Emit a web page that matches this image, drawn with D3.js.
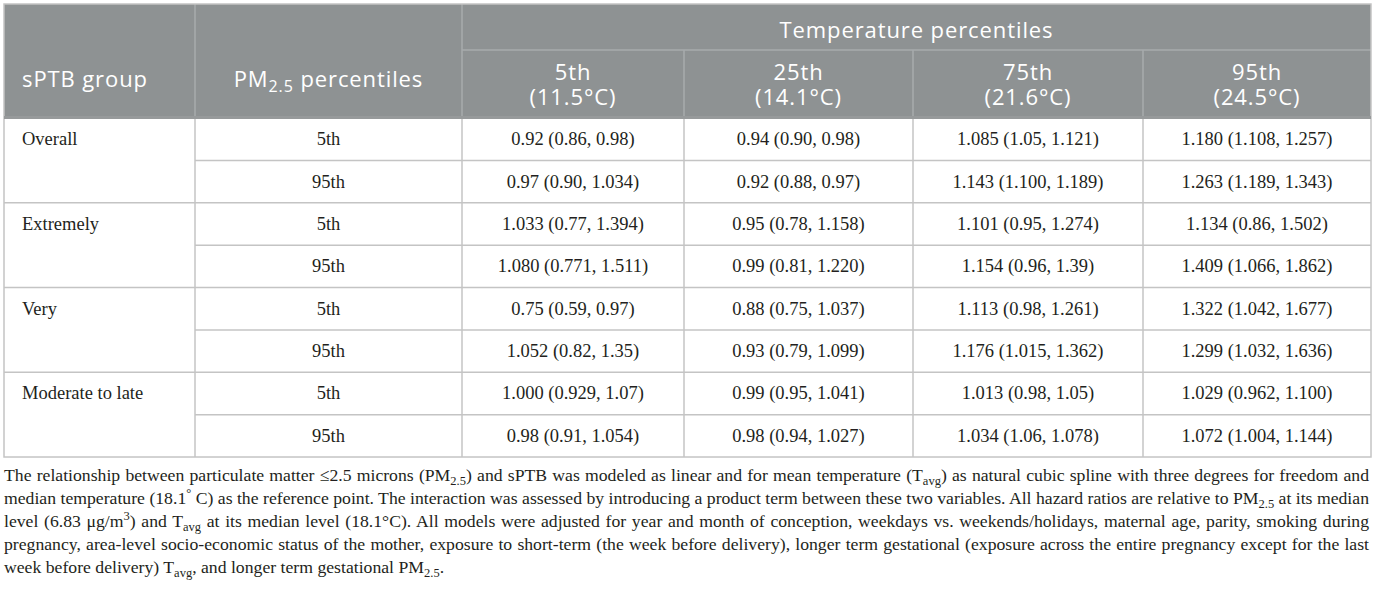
<!DOCTYPE html>
<html lang="en">
<head>
<meta charset="UTF-8">
<title>sPTB hazard ratios by PM2.5 and temperature</title>
<style>
  body { margin: 0; background: #fff; }
  .head { fill: #fff; font-family: "Open Sans", sans-serif; font-size: 22px; letter-spacing: 0.9px; }
  .cell { fill: #231f20; font-family: "Liberation Serif", serif; font-size: 18.5px; }
  .note { fill: #231f20; font-family: "Liberation Serif", serif; font-size: 17.7px; }
</style>
</head>
<body>
<svg id="container" width="1375" height="591"></svg>
<script src="https://cdn.jsdelivr.net/npm/d3@7"></script>
<script>

const groups = ["Overall", "Extremely", "Very", "Moderate to late"]
const pmPercentiles = ["5th", "95th"]
const tempPercentiles = ["5th", "25th", "75th", "95th"]
const tempValues = ["(11.5°C)", "(14.1°C)", "(21.6°C)", "(24.5°C)"]

// HR (95% CI): one row per PM2.5 percentile, one column per temperature percentile
const overall = [
    ["0.92 (0.86, 0.98)", "0.94 (0.90, 0.98)", "1.085 (1.05, 1.121)", "1.180 (1.108, 1.257)"],
    ["0.97 (0.90, 1.034)", "0.92 (0.88, 0.97)", "1.143 (1.100, 1.189)", "1.263 (1.189, 1.343)"]
]
const extremely = [
    ["1.033 (0.77, 1.394)", "0.95 (0.78, 1.158)", "1.101 (0.95, 1.274)", "1.134 (0.86, 1.502)"],
    ["1.080 (0.771, 1.511)", "0.99 (0.81, 1.220)", "1.154 (0.96, 1.39)", "1.409 (1.066, 1.862)"]
]
const very = [
    ["0.75 (0.59, 0.97)", "0.88 (0.75, 1.037)", "1.113 (0.98, 1.261)", "1.322 (1.042, 1.677)"],
    ["1.052 (0.82, 1.35)", "0.93 (0.79, 1.099)", "1.176 (1.015, 1.362)", "1.299 (1.032, 1.636)"]
]
const moderateToLate = [
    ["1.000 (0.929, 1.07)", "0.99 (0.95, 1.041)", "1.013 (0.98, 1.05)", "1.029 (0.962, 1.100)"],
    ["0.98 (0.91, 1.054)", "0.98 (0.94, 1.027)", "1.034 (1.06, 1.078)", "1.072 (1.004, 1.144)"]
]

const noteLines = [
    "The relationship between particulate matter ≤2.5 microns (PM_{2.5}) and sPTB was modeled as linear and for mean temperature (T_{avg}) as natural cubic spline with three degrees for freedom and",
    "median temperature (18.1^{°} C) as the reference point. The interaction was assessed by introducing a product term between these two variables. All hazard ratios are relative to PM_{2.5} at its median",
    "level (6.83 μg/m^{3}) and T_{avg} at its median level (18.1°C). All models were adjusted for year and month of conception, weekdays vs. weekends/holidays, maternal age, parity, smoking during",
    "pregnancy, area-level socio-economic status of the mother, exposure to short-term (the week before delivery), longer term gestational (exposure across the entire pregnancy except for the last",
    "week before delivery) T_{avg}, and longer term gestational PM_{2.5}."
]

const groupRows = [overall, extremely, very, moderateToLate]

let svg = d3.select("#container")

let left = 4, right = 1371
let headTop = 4, headMid = 50, headBottom = 117, bodyBottom = 457

let colKeys = ["group", "pm"].concat(tempPercentiles)
let colX = d3.scaleOrdinal().domain(colKeys).range([4, 195, 462, 684, 913, 1143])
let colW = d3.scaleOrdinal().domain(colKeys).range([191, 267, 222, 229, 230, 228])
let colMid = k => colX(k) + colW(k) / 2

// one body row per (group, PM percentile)
let rows = []
groups.forEach((g, gi) => pmPercentiles.forEach((p, pi) => {
    rows.push({ group: g, pm: p, first: pi == 0, values: groupRows[gi][pi] })
}))
let y = d3.scaleBand().domain(d3.range(rows.length)).range([118, bodyBottom])

// header block
svg.append("rect")
    .attr("x", left).attr("y", headTop)
    .attr("width", right - left).attr("height", headBottom - headTop)
    .attr("fill", "#8e9293")

let headLines = svg.append("g").attr("stroke", "#a7abac").attr("stroke-width", 1.5)
headLines.selectAll(".v1")
    .data(["pm", "5th"])
    .join("line")
    .attr("x1", d => colX(d)).attr("x2", d => colX(d))
    .attr("y1", headTop).attr("y2", headBottom)
headLines.selectAll(".v2")
    .data(tempPercentiles.slice(1))
    .join("line")
    .attr("x1", d => colX(d)).attr("x2", d => colX(d))
    .attr("y1", headMid).attr("y2", headBottom)
headLines.append("line")
    .attr("x1", colX("5th")).attr("x2", right)
    .attr("y1", headMid).attr("y2", headMid)

// header text
let head = svg.append("g").attr("class", "head")
head.append("text")
    .attr("x", 22).attr("y", 87)
    .text("sPTB group")
let pmHead = head.append("text")
    .attr("x", colMid("pm")).attr("y", 87)
    .attr("text-anchor", "middle")
pmHead.append("tspan").text("PM")
pmHead.append("tspan").attr("dy", 5).attr("font-size", 16).text("2.5")
pmHead.append("tspan").attr("dy", -5).text(" percentiles")

head.append("text")
    .attr("x", (colX("5th") + right) / 2).attr("y", 38)
    .attr("text-anchor", "middle")
    .text("Temperature percentiles")

// two-line column heads: percentile over its temperature
let tHead = head.selectAll(".tp")
    .data(tempPercentiles)
    .join("text")
    .attr("y", 80)
    .attr("text-anchor", "middle")
tHead.append("tspan")
    .attr("x", d => colMid(d))
    .text(d => d)
tHead.append("tspan")
    .attr("x", d => colMid(d))
    .attr("dy", 25)
    .text((d, i) => tempValues[i])

// body grid
let grid = svg.append("g").attr("stroke", "#c4c4c4").attr("stroke-width", 1.5)
grid.selectAll(".v")
    .data(colKeys.slice(1))
    .join("line")
    .attr("x1", d => colX(d)).attr("x2", d => colX(d))
    .attr("y1", headBottom).attr("y2", bodyBottom)
grid.selectAll(".h")
    .data(rows.slice(1))
    .join("line")
    .attr("x1", d => d.first ? left : colX("pm")).attr("x2", right)
    .attr("y1", (d, i) => y(i + 1)).attr("y2", (d, i) => y(i + 1))
grid.append("rect")
    .attr("x", left).attr("y", headTop)
    .attr("width", right - left).attr("height", bodyBottom - headTop)
    .attr("fill", "none")
grid.append("line")
    .attr("x1", left).attr("x2", right)
    .attr("y1", 117.5).attr("y2", 117.5)
    .attr("stroke", "#979a9b").attr("stroke-width", 3)

// body text
let body = svg.append("g").attr("class", "cell")
let rowG = body.selectAll(".row")
    .data(rows)
    .join("g")
    .attr("transform", (d, i) => "translate(0," + (y(i) + y.bandwidth() / 2 + 6) + ")")
rowG.filter(d => d.first).append("text")
    .attr("x", 22)
    .text(d => d.group)
rowG.append("text")
    .attr("x", colMid("pm"))
    .attr("text-anchor", "middle")
    .text(d => d.pm)
rowG.selectAll(".v")
    .data(d => d.values)
    .join("text")
    .attr("x", (d, i) => colMid(tempPercentiles[i]))
    .attr("text-anchor", "middle")
    .text(d => d)

// footnote, with _{sub} and ^{sup} markup
let note = svg.append("g").attr("class", "note")
noteLines.forEach((line, li) => {
    let t = note.append("text")
        .attr("x", 4)
        .attr("y", 481 + li * 23)
    let shift = 0
    line.split(/(_\{[^}]*\}|\^\{[^}]*\})/).filter(s => s.length).forEach(s => {
        let target = 0, txt = s, size = null
        if (s.startsWith("_{")) { target = 4; txt = s.slice(2, -1); size = 12.5 }
        else if (s.startsWith("^{")) { target = -7; txt = s.slice(2, -1); size = 12.5 }
        let ts = t.append("tspan").attr("dy", target - shift).text(txt)
        if (size) ts.attr("font-size", size)
        shift = target
    })
    // justify all but the last line
    if (li < noteLines.length - 1) {
        let natural = t.node().getComputedTextLength()
        let spaces = line.split(" ").length - 1
        t.attr("word-spacing", (1365 - natural) / spaces)
    }
})

</script>
</body>
</html>
